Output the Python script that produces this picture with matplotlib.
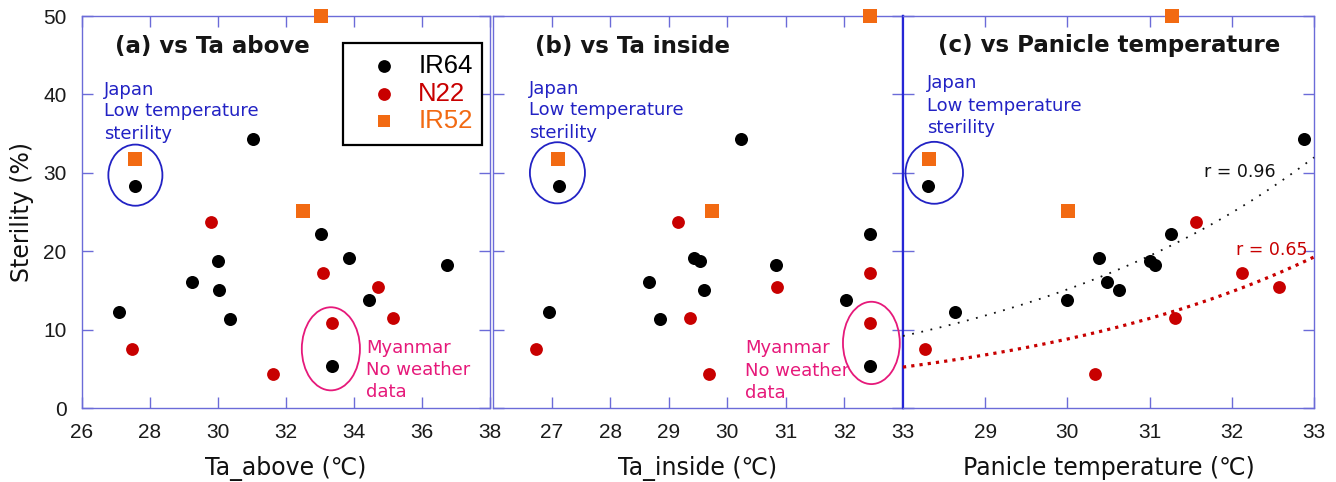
import numpy as np
import matplotlib
matplotlib.use("Agg")
import matplotlib.pyplot as plt
from matplotlib.patches import Ellipse, Rectangle

# ---------------- data ----------------
cultivars = ["IR64", "N22", "IR52"]

# IR64 (sample order shared across panels; NaN = no panicle-temperature data)
ir64_sterility = [28.3, 12.2, 16.1, 19.1, 18.7, 18.2, 15.0, 11.3, 34.3, 22.2, 13.8, 5.3]
ir64_ta_above = [27.56, 27.09, 29.23, 33.85, 30.01, 36.74, 30.04, 30.35, 31.04, 33.02, 34.43, 33.35]
ir64_ta_inside = [27.13, 26.95, 28.66, 29.43, 29.53, 30.84, 29.61, 28.85, 30.24, 32.43, 32.02, 32.43]
ir64_panicle = [28.31, 28.63, 30.48, 30.39, 31.01, 31.06, 30.63, np.nan, 32.88, 31.26, 29.99, np.nan]

# N22
n22_sterility = [7.5, 23.7, 4.3, 17.2, 10.85, 15.4, 11.5]
n22_ta_above = [27.48, 29.79, 31.63, 33.08, 33.34, 34.70, 35.15]
n22_ta_inside = [26.74, 29.15, 29.68, 32.43, 32.43, 30.85, 29.36]
n22_panicle = [28.27, 31.57, 30.33, 32.13, np.nan, 32.57, 31.31]

# IR52
ir52_sterility = [31.8, 25.1, 50.0]
ir52_ta_above = [27.57, 32.51, 33.04]
ir52_ta_inside = [27.11, 29.74, 32.44]
ir52_panicle = [28.32, 30.01, 31.27]

panel_titles = ["(a) vs Ta above", "(b) vs Ta inside", "(c) vs Panicle temperature"]
x_labels = ["Ta_above (\u2103)", "Ta_inside (\u2103)", "Panicle temperature (\u2103)"]
y_label = "Sterility (%)"
x_ranges = [(26, 38), (26, 33), (28, 33)]
x_ticks = [list(range(26, 39, 2)), list(range(27, 34)), list(range(29, 34))]
y_ticks = [0, 10, 20, 30, 40, 50]
r_labels = ["r = 0.96", "r = 0.65"]

# ---------------- style ----------------
W, H = 1336, 482
SPINE = "#6b6bd8"
SPINE_DARK = "#2626d6"
C_IR64 = "#000000"
C_N22 = "#c80000"
C_IR52 = "#f26a12"
C_JAPAN = "#2222c4"
C_MYAN = "#e6197a"
FAM = ["DejaVu Sans", "Noto Sans CJK JP"]
TICKFAM = ["Liberation Sans", "DejaVu Sans"]

plt.rcParams["font.family"] = FAM

fig = plt.figure(figsize=(W / 100, H / 100), dpi=100)
top_px, bot_px = 16, 408
lefts = [82, 493, 903]
rights = [490, 903, 1314]
axes = []
for l, r in zip(lefts, rights):
    ax = fig.add_axes([l / W, 1 - bot_px / H, (r - l) / W, (bot_px - top_px) / H])
    axes.append(ax)

xdata = [
    (ir64_ta_above, n22_ta_above, ir52_ta_above),
    (ir64_ta_inside, n22_ta_inside, ir52_ta_inside),
    (ir64_panicle, n22_panicle, ir52_panicle),
]

title_pos = [(0.081, 0.921), (0.102, 0.921), (0.085, 0.926)]

for i, ax in enumerate(axes):
    ax.set_xlim(*x_ranges[i])
    ax.set_ylim(0, 50)
    ax.set_xticks(x_ticks[i])
    ax.set_yticks(y_ticks)
    for s in ax.spines.values():
        s.set_color(SPINE)
        s.set_linewidth(1.0)
    ax.tick_params(direction="in", length=8, width=1, color=SPINE,
                   top=True, right=True, labelsize=15, labelcolor="#1a1a1a", pad=11)
    for lab in ax.get_xticklabels() + ax.get_yticklabels():
        lab.set_family(TICKFAM)
    if i > 0:
        ax.tick_params(labelleft=False)
    ax.set_xlabel(x_labels[i], fontsize=17, labelpad=10, color="#111111")

    xi, xn, xr = xdata[i]
    ax.scatter(xi, ir64_sterility, s=88, c=C_IR64, marker="o", linewidths=0, zorder=5, clip_on=False)
    ax.scatter(xn, n22_sterility, s=85, c=C_N22, marker="o", linewidths=0, zorder=5, clip_on=False)
    ax.scatter(xr, ir52_sterility, s=88, c=C_IR52, marker="s", linewidths=0, zorder=6, clip_on=False)

    tx, ty = title_pos[i]
    ax.text(tx, ty, panel_titles[i], fontsize=16.5, fontweight="bold", color="#151515",
            transform=ax.transAxes, ha="left", va="center")

axes[0].set_ylabel(y_label, fontsize=17, labelpad=6.5, color="#111111")

axes[1].spines["right"].set_color(SPINE_DARK)
axes[1].spines["right"].set_linewidth(1.6)
axes[2].spines["left"].set_color(SPINE_DARK)
axes[2].spines["left"].set_linewidth(1.6)

# Japan annotations
japan_lines = ["Japan", "Low temperature", "sterility"]
japan_pos = [(0.054, [0.811, 0.758, 0.699]), (0.088, [0.813, 0.760, 0.702]), (0.058, [0.829, 0.770, 0.714])]
for ax, (jx, jys) in zip(axes, japan_pos):
    for line, jy in zip(japan_lines, jys):
        ax.text(jx, jy, line, fontsize=13, color=C_JAPAN, transform=ax.transAxes,
                ha="left", va="center")

# Japan circles (data coords)
japan_ell = [(27.57, 29.7, 1.59, 7.8), (27.10, 30.0, 0.94, 7.8), (28.38, 30.0, 0.70, 7.9)]
for ax, (cx, cy, w, h) in zip(axes, japan_ell):
    ax.add_patch(Ellipse((cx, cy), w, h, fill=False, edgecolor=C_JAPAN, lw=1.3, zorder=4))

# Myanmar annotations
myan_lines = ["Myanmar", "No weather", "data"]
myan_pos = [(0.696, [0.153, 0.097, 0.041]), (0.615, [0.153, 0.094, 0.038])]
for ax, (mx, mys) in zip(axes[:2], myan_pos):
    for line, my in zip(myan_lines, mys):
        ax.text(mx, my, line, fontsize=13, color=C_MYAN, transform=ax.transAxes,
                ha="left", va="center", zorder=7)
myan_ell = [(33.32, 7.55, 1.71, 10.6), (32.46, 8.3, 0.97, 10.5)]
for ax, (cx, cy, w, h) in zip(axes[:2], myan_ell):
    ax.add_patch(Ellipse((cx, cy), w, h, fill=False, edgecolor=C_MYAN, lw=1.3, zorder=4))

# Exponential fits in panel (c)
axc = axes[2]
xs = np.linspace(28, 33, 200)
xb = np.array(ir64_panicle[1:], dtype=float)
yb = np.array(ir64_sterility[1:], dtype=float)
m = ~np.isnan(xb)
pb = np.polyfit(xb[m], np.log(yb[m]), 1)
axc.plot(xs, np.exp(np.polyval(pb, xs)), color="#111111", lw=1.3,
         linestyle=(0, (1, 4.2)), zorder=3, clip_on=False)
xr_ = np.array(n22_panicle, dtype=float)
yr_ = np.array(n22_sterility, dtype=float)
m = ~np.isnan(xr_)
pr = np.polyfit(xr_[m], np.log(yr_[m]), 1)
axc.plot(xs, np.exp(np.polyval(pr, xs)), color=C_N22, lw=2.3,
         linestyle=(0, (1, 1.6)), zorder=3, clip_on=False)
axc.text(0.732, 0.602, r_labels[0], fontsize=12.5, color="#111111",
         transform=axc.transAxes, ha="left", va="center")
axc.text(0.810, 0.403, r_labels[1], fontsize=12.5, color=C_N22,
         transform=axc.transAxes, ha="left", va="center")

# Legend (manual box in panel a)
axa = axes[0]
axa.add_patch(Rectangle((0.640, 0.671), 0.340, 0.260, transform=axa.transAxes,
                        fill=True, facecolor="white", edgecolor="black", lw=1.6, zorder=8))
leg_markers = ["o", "o", "s"]
leg_colors = [C_IR64, C_N22, C_IR52]
leg_ys = [0.872, 0.801, 0.732]
for name, mk, col, ly in zip(cultivars, leg_markers, leg_colors, leg_ys):
    axa.plot([0.740], [ly], marker=mk, ms=9.2, color=col, mec=col, mew=0,
             transform=axa.transAxes, zorder=9, clip_on=False, linestyle="none")
    axa.text(0.824, ly, name, fontsize=18.5, color=col, family=TICKFAM,
             transform=axa.transAxes, ha="left", va="center", zorder=9)

fig.savefig("out.png", dpi=100)
